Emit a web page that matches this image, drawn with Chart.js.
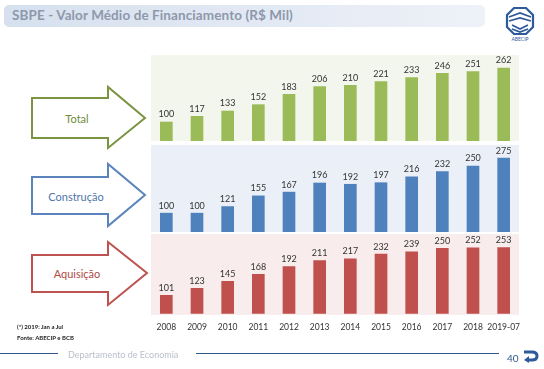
<!DOCTYPE html>
<html>
<head>
<meta charset="utf-8">
<script src="https://cdn.jsdelivr.net/npm/chart.js@4.4.1/dist/chart.umd.min.js"></script>
<style>
  html, body { margin:0; padding:0; background:#fff; }
  body { width:544px; height:369px; position:relative; overflow:hidden; font-family: Lato, "Open Sans", sans-serif; }
  .abs { position:absolute; }
  #titlebar { left:4px; top:5px; width:481px; height:22px; border-radius:5px;
    background: linear-gradient(to right, #d6e0ee 0%, #e4eaf4 60%, #eef2f8 100%); }
  #title { left:12px; top:7px; font-size:13.5px; font-weight:bold; color:#8d98ab; white-space:nowrap; letter-spacing:0.1px; }
  .cv { position:absolute; left:0; }
  .arrowtxt { position:absolute; font-size:11px; transform:translate(-50%,-50%); white-space:nowrap; }
  .foot { position:absolute; font-size:6px; font-weight:bold; color:#222; white-space:nowrap; }
</style>
</head>
<body>
<div id="titlebar" class="abs"></div>
<div id="title" class="abs">SBPE - Valor Médio de Financiamento (R$ Mil)</div>

<svg class="abs" style="left:500px;top:6px" width="40" height="36" viewBox="0 0 40 36">
  <path d="M14 2 L26 2 L33 9 L33 21 L26 28 L14 28 L7 21 L7 9 Z" fill="none" stroke="#2f5a9a" stroke-width="2.2"/>
  <path d="M9 11 L20 7 L31 11 M9 15 L20 12 L31 15 M12 19 L20 23 L28 19 M12 23 L20 26 L28 23" fill="none" stroke="#2f5a9a" stroke-width="1.8"/>
  <text x="20" y="35" font-size="5" font-family="Lato, sans-serif" fill="#2f5a9a" text-anchor="middle">ABECIP</text>
</svg>

<svg class="abs" style="left:0;top:0" width="160" height="320">
  <path d="M32 98 L108 98 L108 87 L145 118 L108 148 L108 138 L32 138 Z" fill="#fff" stroke="#7a9440" stroke-width="2"/>
  <path d="M32 177 L108 177 L108 164 L145 195 L108 226 L108 214 L32 214 Z" fill="#fff" stroke="#5a84bb" stroke-width="2"/>
  <path d="M32 255 L108 255 L108 242 L147 273 L108 305 L108 292 L32 292 Z" fill="#fff" stroke="#bd5350" stroke-width="2"/>
</svg>
<div class="arrowtxt" style="left:77px;top:118px;color:#6f8a3a">Total</div>
<div class="arrowtxt" style="left:76px;top:196px;color:#4f76aa">Construção</div>
<div class="arrowtxt" style="left:77px;top:273px;color:#b04a47">Aquisição</div>

<canvas id="c1" class="cv" style="top:55px" width="544" height="86"></canvas>
<canvas id="c2" class="cv" style="top:145px" width="544" height="87"></canvas>
<canvas id="c3" class="cv" style="top:234px" width="544" height="106"></canvas>

<div class="foot" style="left:17px;top:323px">(*) 2019: Jan a Jul</div>
<div class="foot" style="left:17px;top:334px">Fonte: ABECIP e BCB</div>

<div class="abs" style="left:0;top:353px;width:58px;height:1px;background:#2f5a8a"></div>
<div class="abs" style="left:68px;top:349px;font-size:9px;color:#b8bfcc;white-space:nowrap">Departamento de Economia</div>
<div class="abs" style="left:196px;top:353px;width:303px;height:1px;background:#2f5a8a"></div>
<div class="abs" style="left:507px;top:352px;font-size:10px;color:#2f5a8a">40</div>
<svg class="abs" style="left:523px;top:349px" width="16" height="14" viewBox="0 0 16 14">
  <path d="M1 3 L9 3 Q14 3 14 7 Q14 11 9 11 L4 11" fill="none" stroke="#2f5a9a" stroke-width="3"/>
  <path d="M1 11 L6 7 L6 14 Z" fill="#2f5a9a"/>
</svg>

<script>
const categories = ['2008','2009','2010','2011','2012','2013','2014','2015','2016','2017','2018','2019-07'];
const totalValues      = [100,117,133,152,183,206,210,221,233,246,251,262];
const construcaoValues = [100,100,121,155,167,196,192,197,216,232,250,275];
const aquisicaoValues  = [101,123,145,168,192,211,217,232,239,250,252,253];

const FONT = 'Lato, "Open Sans", sans-serif';

const bgPlugin = {
  id: 'panelBg',
  beforeDraw(chart, args, opts) {
    const {ctx, chartArea: a} = chart;
    ctx.save();
    ctx.fillStyle = opts.color;
    ctx.fillRect(a.left, a.top, a.right - a.left, a.bottom - a.top + 1);
    ctx.restore();
  }
};
const labelPlugin = {
  id: 'valLabels',
  afterDatasetsDraw(chart) {
    const {ctx} = chart;
    ctx.save();
    ctx.font = '9px ' + FONT;
    ctx.fillStyle = '#333';
    ctx.textAlign = 'center';
    ctx.textBaseline = 'bottom';
    const meta = chart.getDatasetMeta(0);
    const data = chart.data.datasets[0].data;
    meta.data.forEach((bar, i) => {
      ctx.fillText(String(data[i]), bar.x, bar.y - 3);
    });
    ctx.restore();
  }
};

function makeChart(id, values, color, bg, yMin, yMax, showX) {
  new Chart(document.getElementById(id), {
    type: 'bar',
    data: { labels: categories, datasets: [{ data: values, backgroundColor: color, borderWidth: 0 }] },
    options: {
      responsive: false,
      animation: false,
      devicePixelRatio: 1,
      layout: { padding: { left: 151, right: 25, top: 0, bottom: 0 } },
      datasets: { bar: { barThickness: 12 } },
      plugins: { legend: { display: false }, tooltip: { enabled: false }, panelBg: { color: bg } },
      scales: {
        x: {
          display: showX,
          grid: { display: false, drawTicks: false },
          border: { display: false },
          ticks: { padding: 8, color: '#333', font: { size: 8.5, family: FONT }, maxRotation: 0, autoSkip: false }
        },
        y: { display: false, min: yMin, max: yMax }
      }
    },
    plugins: [bgPlugin, labelPlugin]
  });
}

makeChart('c1', totalValues,      '#9bbb59', '#f3f6ec', 43, 301, false);
makeChart('c2', construcaoValues, '#4f81bd', '#ebf0f8', 40, 317, false);
makeChart('c3', aquisicaoValues,  '#c0504d', '#f8ecec', 42, 296, true);
</script>
</body>
</html>
